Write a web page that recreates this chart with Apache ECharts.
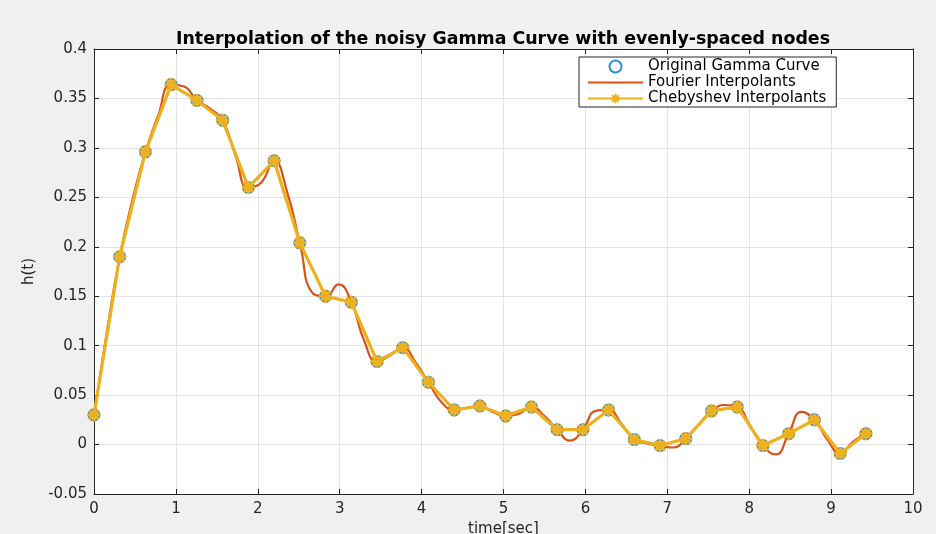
<!DOCTYPE html>
<html>
<head>
<meta charset="utf-8">
<script src="https://cdn.jsdelivr.net/npm/echarts@6/dist/echarts.min.js"></script>
<style>
  html, body { margin: 0; padding: 0; background: #f0f0f0; }
  #chart { width: 936px; height: 534px; }
</style>
</head>
<body>
<div id="chart"></div>
<script>
// Evenly-spaced nodes (time in seconds)
var nodeT = [0, 0.314, 0.628, 0.942, 1.257, 1.571, 1.885, 2.199, 2.513, 2.827,
             3.142, 3.456, 3.770, 4.084, 4.398, 4.712, 5.027, 5.341, 5.655, 5.969,
             6.283, 6.597, 6.912, 7.226, 7.540, 7.854, 8.168, 8.482, 8.796, 9.111, 9.425];
// Noisy gamma curve values at the nodes
var gammaY = [0.030, 0.190, 0.296, 0.364, 0.348, 0.328, 0.260, 0.287, 0.204, 0.150,
              0.144, 0.084, 0.098, 0.063, 0.035, 0.039, 0.029, 0.038, 0.015, 0.015,
              0.035, 0.005, -0.001, 0.006, 0.034, 0.038, -0.001, 0.011, 0.025, -0.009, 0.011];
// Chebyshev interpolant values (read at the nodes)
var chebY = [0.030, 0.190, 0.296, 0.364, 0.348, 0.328, 0.260, 0.287, 0.204, 0.150,
             0.144, 0.084, 0.098, 0.063, 0.035, 0.039, 0.029, 0.038, 0.015, 0.015,
             0.035, 0.005, -0.001, 0.006, 0.034, 0.038, -0.001, 0.011, 0.025, -0.009, 0.011];
// Fourier interpolant at the nodes and half-way between them
var fourierT = [0, 0.157, 0.314, 0.471, 0.628, 0.785, 0.942, 1.100, 1.257, 1.414,
                1.571, 1.728, 1.885, 2.042, 2.199, 2.356, 2.513, 2.670, 2.827, 2.985,
                3.142, 3.299, 3.456, 3.613, 3.770, 3.927, 4.084, 4.241, 4.398, 4.555,
                4.712, 4.869, 5.027, 5.184, 5.341, 5.498, 5.655, 5.812, 5.969, 6.126,
                6.283, 6.440, 6.597, 6.754, 6.912, 7.069, 7.226, 7.383, 7.540, 7.697,
                7.854, 8.011, 8.168, 8.325, 8.482, 8.639, 8.796, 8.954, 9.111, 9.268, 9.425];
var fourierY = [0.030, 0.114, 0.190, 0.248, 0.296, 0.333, 0.364, 0.362, 0.348, 0.340,
                0.328, 0.292, 0.260, 0.265, 0.287, 0.256, 0.204, 0.153, 0.150, 0.162,
                0.144, 0.105, 0.084, 0.090, 0.098, 0.083, 0.063, 0.043, 0.035, 0.037,
                0.039, 0.033, 0.029, 0.031, 0.038, 0.029, 0.015, 0.004, 0.015, 0.034,
                0.035, 0.021, 0.005, 0.001, -0.001, -0.003, 0.006, 0.020, 0.034, 0.040,
                0.038, 0.019, -0.001, -0.010, 0.011, 0.033, 0.025, 0.005, -0.009, 0.003, 0.011];

var titleText = 'Interpolation of the noisy Gamma Curve with evenly-spaced nodes';
var seriesNames = ['Original Gamma Curve', 'Fourier Interpolants', 'Chebyshev Interpolants'];
var xName = 'time[sec]';
var yName = 'h(t)';

function pairs(xs, ys) {
  return xs.map(function (x, i) { return [x, ys[i]]; });
}

var FONT = 'DejaVu Sans';
var AXIS_COLOR = '#262626';
var STAR = 'path://M0 -10 L0 10 M-10 0 L10 0 M-7.07 -7.07 L7.07 7.07 M-7.07 7.07 L7.07 -7.07';
var LINE_ICON = 'path://M0 0 L55 0 L55 2.2 L0 2.2 Z';

var chart = echarts.init(document.getElementById('chart'));
chart.setOption({
  backgroundColor: '#f0f0f0',
  animation: false,
  title: {
    text: titleText,
    left: 498,
    textAlign: 'center',
    top: 26,
    textStyle: { fontFamily: FONT, fontSize: 17.4, fontWeight: 'bold', color: '#000' }
  },
  legend: {
    orient: 'vertical',
    left: 579,
    top: 57,
    padding: [2, 10, 1, 8],
    itemWidth: 55,
    itemHeight: 12,
    itemGap: 1,
    backgroundColor: '#ffffff',
    borderColor: '#262626',
    borderWidth: 1,
    borderRadius: 0,
    textStyle: { fontFamily: FONT, fontSize: 15, lineHeight: 15, color: '#000' },
    data: [
      { name: seriesNames[0] },
      { name: seriesNames[1], icon: LINE_ICON },
      { name: seriesNames[2] }
    ]
  },
  grid: {
    left: 94, right: 23, top: 49, bottom: 40,
    outerBoundsMode: 'none', containLabel: false,
    backgroundColor: '#fff', show: true, borderWidth: 0
  },
  xAxis: [{
    type: 'value', min: 0, max: 10, interval: 1,
    name: xName, nameLocation: 'middle', nameGap: 24,
    nameTextStyle: { fontFamily: FONT, fontSize: 15, color: AXIS_COLOR },
    axisLine: { onZero: false, lineStyle: { color: AXIS_COLOR, width: 1 } },
    axisTick: { inside: true, length: 5, lineStyle: { color: AXIS_COLOR } },
    axisLabel: { fontFamily: FONT, fontSize: 15, color: AXIS_COLOR, margin: 8 },
    splitLine: { show: true, lineStyle: { color: '#e3e3e3', width: 1 } }
  }, {
    type: 'value', min: 0, max: 10, interval: 1, position: 'top',
    axisLine: { onZero: false, lineStyle: { color: AXIS_COLOR, width: 1 } },
    axisTick: { inside: true, length: 5, lineStyle: { color: AXIS_COLOR } },
    axisLabel: { show: false },
    splitLine: { show: false }
  }],
  yAxis: [{
    type: 'value', min: -0.05, max: 0.4, interval: 0.05,
    name: yName, nameLocation: 'middle', nameGap: 57, nameRotate: 90,
    nameTextStyle: { fontFamily: FONT, fontSize: 15, color: AXIS_COLOR },
    axisLine: { onZero: false, lineStyle: { color: AXIS_COLOR, width: 1 } },
    axisTick: { inside: true, length: 5, lineStyle: { color: AXIS_COLOR } },
    axisLabel: {
      fontFamily: FONT, fontSize: 15, color: AXIS_COLOR, margin: 7,
      formatter: function (v) { return String(Math.round(v * 100) / 100); }
    },
    splitLine: { show: true, lineStyle: { color: '#e3e3e3', width: 1 } }
  }, {
    type: 'value', min: -0.05, max: 0.4, interval: 0.05, position: 'right',
    axisLine: { onZero: false, lineStyle: { color: AXIS_COLOR, width: 1 } },
    axisTick: { inside: true, length: 5, lineStyle: { color: AXIS_COLOR } },
    axisLabel: { show: false },
    splitLine: { show: false }
  }],
  series: [{
    name: seriesNames[0],
    type: 'scatter',
    symbol: 'circle',
    symbolSize: 11,
    itemStyle: { color: '#ffffff', borderColor: '#0072BD', borderWidth: 2 },
    data: pairs(nodeT, gammaY),
    z: 2
  }, {
    name: seriesNames[1],
    type: 'line',
    smooth: 0.5,
    symbol: 'none',
    lineStyle: { color: '#D95319', width: 2.2 },
    itemStyle: { color: '#D95319' },
    data: pairs(fourierT, fourierY),
    z: 3
  }, {
    name: seriesNames[2],
    type: 'line',
    symbol: STAR,
    symbolSize: 13,
    showAllSymbol: true,
    lineStyle: { color: '#EDB120', width: 3.2 },
    itemStyle: { color: '#EDB120', borderColor: '#EDB120', borderWidth: 2.8 },
    data: pairs(nodeT, chebY),
    z: 4
  }]
});
</script>
</body>
</html>
